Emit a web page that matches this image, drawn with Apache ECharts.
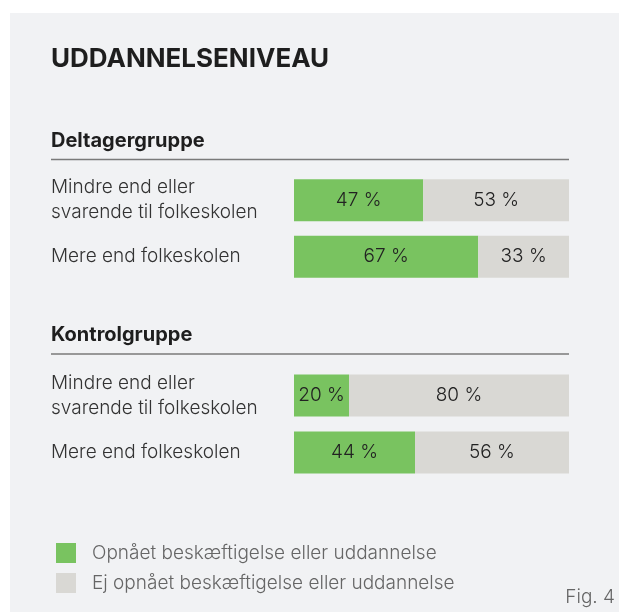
<!DOCTYPE html>
<html>
<head>
<meta charset="utf-8">
<script src="https://cdn.jsdelivr.net/npm/echarts@6/dist/echarts.min.js"></script>
<style>
  html, body { margin: 0; padding: 0; background: #fff; }
  #chart { width: 619px; height: 612px; }
</style>
</head>
<body>
<div id="chart"></div>
<script>
// data
const categories = ['Mindre end eller\nsvarende til folkeskolen', 'Mere end folkeskolen'];
const groupNames = ['Deltagergruppe', 'Kontrolgruppe'];
const seriesNames = ['Opnået beskæftigelse eller uddannelse', 'Ej opnået beskæftigelse eller uddannelse'];
const deltagerOpnaet = [47, 67];
const deltagerEj = [53, 33];
const kontrolOpnaet = [20, 44];
const kontrolEj = [80, 56];

const FONT = 'Inter, "Liberation Sans", sans-serif';
const GREEN = '#79c360';
const GREY = '#d9d8d4';

let myChart = echarts.init(document.getElementById('chart'), null, { renderer: 'canvas' });

let grid = [
  { left: 294, right: 50, top: 172, height: 113 },
  { left: 294, right: 50, top: 367, height: 114 }
];

let xAxis = [0, 1].map(i => ({
  type: 'value', gridIndex: i, min: 0, max: 100,
  show: false
}));

let yAxis = [0, 1].map(i => ({
  type: 'category', gridIndex: i, data: categories, inverse: true,
  axisLine: { show: false }, axisTick: { show: false },
  axisLabel: {
    align: 'left', margin: 243,
    fontFamily: FONT, fontSize: 19, fontWeight: 300,
    lineHeight: 25, color: '#333'
  }
}));

let barLabel = {
  show: true, position: 'inside', formatter: '{c} %',
  fontFamily: FONT, fontSize: 19, fontWeight: 300, color: '#222'
};

function bars(name, data, gi, color) {
  return {
    type: 'bar', name: name, data: data, stack: 'g' + gi,
    xAxisIndex: gi, yAxisIndex: gi, barWidth: 42,
    itemStyle: { color: color }, label: barLabel,
    emphasis: { disabled: true }, silent: true
  };
}

let series = [
  bars(seriesNames[0], deltagerOpnaet, 0, GREEN),
  bars(seriesNames[1], deltagerEj, 0, GREY),
  bars(seriesNames[0], kontrolOpnaet, 1, GREEN),
  bars(seriesNames[1], kontrolEj, 1, GREY)
];

let legend = {
  orient: 'vertical', left: 51, top: 538,
  icon: 'rect', itemWidth: 20, itemHeight: 20, itemGap: 10,
  data: seriesNames,
  textStyle: { fontFamily: FONT, fontSize: 19, fontWeight: 300, color: '#666', padding: [0, 0, 0, 11] },
  selectedMode: false
};

let graphic = [
  { type: 'rect', shape: { x: 10, y: 13, width: 609, height: 599 }, style: { fill: '#f1f2f4' }, z: -10 },
  { type: 'text', x: 51, y: 59, style: { text: 'UDDANNELSENIVEAU', font: 'bold 26px ' + FONT, fill: '#1e1e1e', verticalAlign: 'middle' } },
  { type: 'text', x: 51, y: 141, style: { text: groupNames[0], font: 'bold 20px ' + FONT, fill: '#1e1e1e', verticalAlign: 'middle' } },
  { type: 'text', x: 51, y: 335, style: { text: groupNames[1], font: 'bold 20px ' + FONT, fill: '#1e1e1e', verticalAlign: 'middle' } },
  { type: 'line', shape: { x1: 51, y1: 159.5, x2: 569, y2: 159.5 }, style: { stroke: '#7a7a7a', lineWidth: 1.5 } },
  { type: 'line', shape: { x1: 51, y1: 354, x2: 569, y2: 354 }, style: { stroke: '#7a7a7a', lineWidth: 1.5 } },
  { type: 'text', x: 615, y: 597, style: { text: 'Fig. 4', font: '300 19px ' + FONT, fill: '#666', align: 'right', verticalAlign: 'middle' } }
];

myChart.setOption({
  backgroundColor: '#ffffff',
  animation: false,
  grid: grid,
  xAxis: xAxis,
  yAxis: yAxis,
  legend: legend,
  graphic: graphic,
  series: series
});
</script>
</body>
</html>
